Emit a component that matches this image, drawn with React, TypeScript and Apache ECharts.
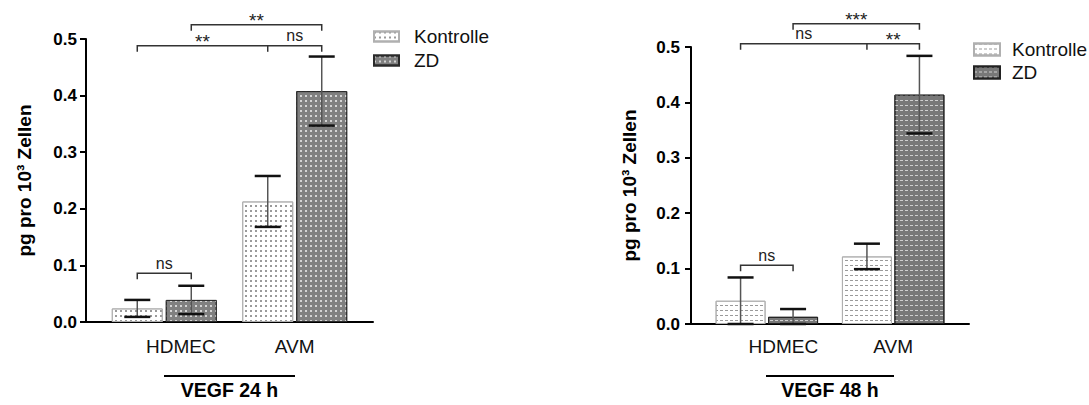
import React, { useEffect, useRef } from "react";
import * as echarts from "echarts";

const FONT = '"Liberation Sans", Arial, Helvetica, sans-serif';

const categories = ["HDMEC", "AVM"];
const seriesNames = ["Kontrolle", "ZD"];
const yAxisTitle = "pg pro 10³ Zellen";
const yMin = 0;
const yMax = 0.5;
const yStep = 0.1;

// VEGF 24 h (means and SEM error)
const title24 = "VEGF 24 h";
const kontrolle24 = [0.024, 0.213];
const kontrolle24Err = [0.015, 0.045];
const zd24 = [0.039, 0.408];
const zd24Err = [0.025, 0.061];

// VEGF 48 h
const title48 = "VEGF 48 h";
const kontrolle48 = [0.042, 0.122];
const kontrolle48Err = [0.042, 0.023];
const zd48 = [0.013, 0.414];
const zd48Err = [0.014, 0.07];

// significance brackets: endpoints [seriesIndex, categoryIndex], level (y value), labels per segment
const brackets24 = [
  { points: [[0, 0], [1, 0]], y: 0.086, labels: ["ns"] },
  { points: [[0, 0], [0, 1], [1, 1]], y: 0.488, labels: ["**", "ns"] },
  { points: [[1, 0], [1, 1]], y: 0.525, labels: ["**"] },
];
const brackets48 = [
  { points: [[0, 0], [1, 0]], y: 0.106, labels: ["ns"] },
  { points: [[0, 0], [0, 1], [1, 1]], y: 0.506, labels: ["ns", "**"] },
  { points: [[1, 0], [1, 1]], y: 0.542, labels: ["***"] },
];

type Layout = {
  left: number; top: number; width: number; height: number;
  barWidth: number; barGapPx: number; capWidth: number;
  legendLeft: number; legendTop: number; legendW: number; legendH: number; legendGap: number; legendTextPad: number;
  lineWidth: number; nameGap: number; labelMargin: number; yLabelMargin: number;
};

function buildOption(title: string, means: number[][], errs: number[][], brackets: any[], styles: any[], L: Layout) {
  const half = (L.barWidth + L.barGapPx) / 2;
  const errorData: number[][] = [];
  seriesNames.forEach((_, s) =>
    categories.forEach((_, c) => errorData.push([c, means[s][c], errs[s][c], s]))
  );
  const tick = 6;
  return {
    animation: false,
    grid: { left: L.left, top: L.top, width: L.width, height: L.height },
    legend: {
      data: seriesNames,
      orient: "vertical",
      left: L.legendLeft,
      top: L.legendTop,
      padding: 0,
      icon: "rect",
      itemWidth: L.legendW,
      itemHeight: L.legendH,
      itemGap: L.legendGap,
      selectedMode: false,
      textStyle: { fontSize: 19, color: "#111", fontFamily: FONT, padding: [0, 0, 0, L.legendTextPad] },
    },
    xAxis: {
      type: "value",
      min: -0.6,
      max: 1.6,
      axisLine: { show: true, onZero: false, lineStyle: { color: "#000", width: 2 } },
      axisTick: { show: false },
      splitLine: { show: false },
      axisLabel: {
        customValues: [0, 1],
        margin: L.labelMargin,
        formatter: (v: number) => {
          const i = Math.round(v);
          return i === 0 ? `{h|${categories[i]}}` : `{n|${categories[i]}}`;
        },
        rich: {
          h: { fontSize: 19, color: "#111", fontFamily: FONT, padding: [0, 0, 0, 33] },
          n: { fontSize: 19, color: "#111", fontFamily: FONT },
        },
      },
      name: `{l|}\n{t|${title}}`,
      nameLocation: "middle",
      nameGap: L.nameGap,
      nameTextStyle: {
        rich: {
          l: { width: L.lineWidth, height: 2, lineHeight: 2, backgroundColor: "#000" },
          t: { fontSize: 19.5, fontWeight: "bold", color: "#000", fontFamily: FONT, lineHeight: 22, padding: [4, 0, 0, 0] },
        },
      },
    },
    yAxis: {
      type: "value",
      min: yMin,
      max: yMax,
      interval: yStep,
      axisLine: { show: true, onZero: false, lineStyle: { color: "#000", width: 2 } },
      axisTick: { show: true, length: 6, lineStyle: { color: "#000", width: 2 } },
      splitLine: { show: false },
      axisLabel: {
        formatter: (v: number) => v.toFixed(1),
        fontSize: 17,
        fontWeight: "bold",
        color: "#000",
        fontFamily: FONT,
        margin: L.yLabelMargin,
      },
      name: yAxisTitle,
      nameLocation: "middle",
      nameGap: 52,
      nameTextStyle: { fontSize: 19, fontWeight: "bold", color: "#000", fontFamily: FONT },
    },
    series: [
      ...seriesNames.map((name, s) => ({
        type: "bar",
        name,
        data: categories.map((_, c) => [c, means[s][c]]),
        barWidth: L.barWidth,
        barGap: `${(L.barGapPx / L.barWidth) * 100}%`,
        itemStyle: styles[s],
        emphasis: { disabled: true },
        silent: true,
      })),
      {
        type: "custom",
        name: "error",
        data: errorData,
        encode: { x: 0, y: 1 },
        z: 5,
        silent: true,
        clip: false,
        renderItem: (params: any, api: any) => {
          const c = api.value(0);
          const m = api.value(1);
          const e = api.value(2);
          const s = api.value(3);
          const x = api.coord([c, m])[0] + (s === 0 ? -half : half);
          const yTop = api.coord([c, m + e])[1];
          const yBot = api.coord([c, Math.max(0, m - e)])[1];
          const cap = L.capWidth / 2;
          return {
            type: "group",
            children: [
              { type: "line", shape: { x1: x, y1: yTop, x2: x, y2: yBot }, style: { stroke: "#555", lineWidth: 1.5 } },
              { type: "line", shape: { x1: x - cap, y1: yTop, x2: x + cap, y2: yTop }, style: { stroke: "#111", lineWidth: 2.5 } },
              { type: "line", shape: { x1: x - cap, y1: yBot, x2: x + cap, y2: yBot }, style: { stroke: "#111", lineWidth: 2.5 } },
            ],
          };
        },
      },
      {
        type: "custom",
        name: "sig",
        data: brackets.map((b) => [b.points[0][1], b.y]),
        encode: { x: 0, y: 1 },
        z: 5,
        silent: true,
        clip: false,
        renderItem: (params: any, api: any) => {
          const b = brackets[params.dataIndex];
          const yPx = api.coord([0, b.y])[1];
          const xs = b.points.map(([s, c]: number[]) => api.coord([c, b.y])[0] + (s === 0 ? -half : half));
          const stroke = { stroke: "#333", lineWidth: 1.5, fill: null };
          const children: any[] = [
            {
              type: "polyline",
              shape: {
                points: [
                  [xs[0], yPx + tick],
                  [xs[0], yPx],
                  [xs[xs.length - 1], yPx],
                  [xs[xs.length - 1], yPx + tick],
                ],
              },
              style: stroke,
            },
          ];
          for (let i = 1; i < xs.length - 1; i++) {
            children.push({ type: "line", shape: { x1: xs[i], y1: yPx, x2: xs[i], y2: yPx + tick }, style: stroke });
          }
          b.labels.forEach((t: string, i: number) => {
            const star = t.includes("*");
            children.push({
              type: "text",
              x: (xs[i] + xs[i + 1]) / 2,
              y: yPx - 2 + (star ? 7 : 0),
              style: { text: t, fontSize: star ? 19 : 16, fontFamily: FONT, fill: "#222", align: "center", verticalAlign: "bottom" },
            });
          });
          return { type: "group", children };
        },
      },
    ],
  };
}

const dotK = { symbol: "rect", symbolSize: 1, color: "#9a9a9a", dashArrayX: [2, 3], dashArrayY: [2, 3] };
const dotZ = { symbol: "rect", symbolSize: 1, color: "#d4d4d4", dashArrayX: [2, 3], dashArrayY: [2, 3] };
const dashK = { symbol: "rect", symbolSize: 1, color: "#9a9a9a", dashArrayX: [3, 2], dashArrayY: [1, 4] };
const dashZ = { symbol: "rect", symbolSize: 1, color: "#d0d0d0", dashArrayX: [3, 2], dashArrayY: [1, 4] };

const styles24 = [
  { color: "#ffffff", borderColor: "#b0b0b0", borderWidth: 1, decal: dotK },
  { color: "#808080", borderColor: "#2a2a2a", borderWidth: 1, decal: dotZ },
];
const styles48 = [
  { color: "#ffffff", borderColor: "#b0b0b0", borderWidth: 1, decal: dashK },
  { color: "#787878", borderColor: "#222222", borderWidth: 1, decal: dashZ },
];

const layout24: Layout = {
  left: 86, top: 39, width: 287, height: 284,
  barWidth: 51, barGapPx: 3, capWidth: 26,
  legendLeft: 373, legendTop: 27, legendW: 25, legendH: 10, legendGap: 5, legendTextPad: 10,
  lineWidth: 131, nameGap: 53, labelMargin: 15, yLabelMargin: 9,
};
const layout48: Layout = {
  left: 146, top: 47, width: 278, height: 279,
  barWidth: 50, barGapPx: 2.5, capWidth: 26,
  legendLeft: 428, legendTop: 40, legendW: 26, legendH: 12, legendGap: 4, legendTextPad: 7,
  lineWidth: 128, nameGap: 51, labelMargin: 13, yLabelMargin: 11,
};

function Chart({ option, left, width }: { option: any; left: number; width: number }) {
  const ref = useRef<HTMLDivElement>(null);
  useEffect(() => {
    if (!ref.current) return;
    const chart = echarts.init(ref.current, undefined, { renderer: "svg" });
    chart.setOption(option);
    return () => chart.dispose();
  }, [option]);
  return <div ref={ref} style={{ position: "fixed", top: 0, left, width, height: 405 }} />;
}

const option24 = buildOption(title24, [kontrolle24, zd24], [kontrolle24Err, zd24Err], brackets24, styles24, layout24);
const option48 = buildOption(title48, [kontrolle48, zd48], [kontrolle48Err, zd48Err], brackets48, styles48, layout48);

export default function App() {
  return (
    <div style={{ position: "fixed", top: 0, left: 0, width: 1089, height: 405, background: "#fff" }}>
      <Chart option={option24} left={0} width={545} />
      <Chart option={option48} left={545} width={544} />
    </div>
  );
}
